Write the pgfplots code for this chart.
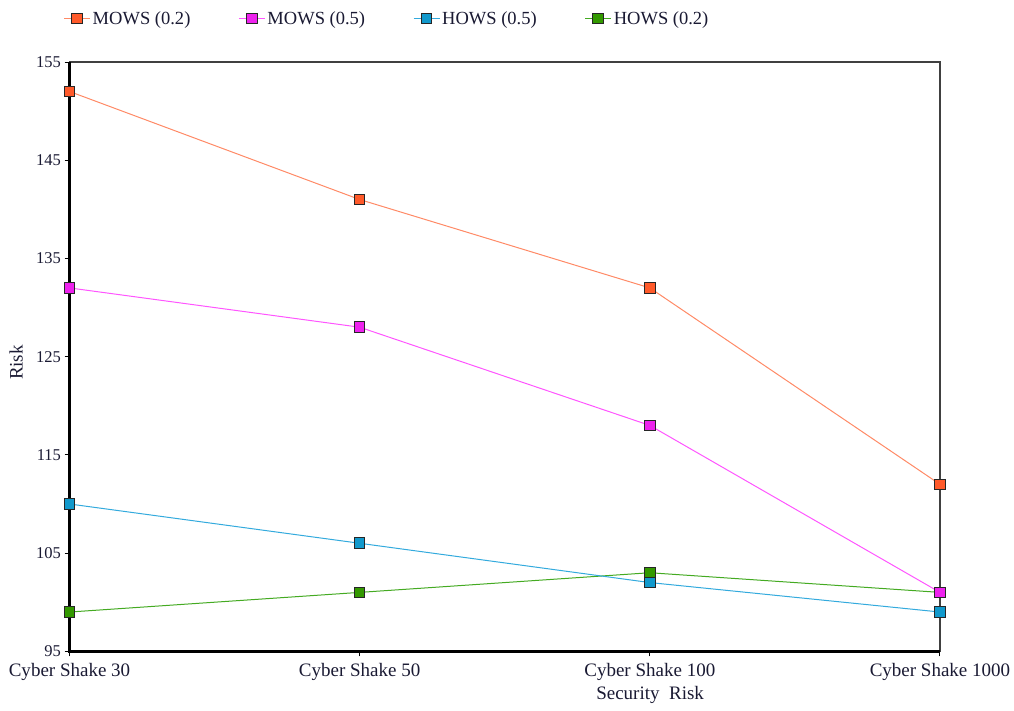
\documentclass[border=0pt]{standalone}
\usepackage{fontspec}
\setmainfont{Liberation Serif}
\usepackage{pgfplots}
\pgfplotsset{compat=1.18}
\definecolor{orline}{HTML}{FF8A66}
\definecolor{orfill}{HTML}{FF5A2A}
\definecolor{mgline}{HTML}{FF55FF}
\definecolor{mgfill}{HTML}{EE22EE}
\definecolor{blline}{HTML}{33AADD}
\definecolor{blfill}{HTML}{1199CC}
\definecolor{grline}{HTML}{44AA22}
\definecolor{grfill}{HTML}{339900}
\definecolor{txt}{HTML}{1A1A33}
\begin{document}
\begin{tikzpicture}
\begin{axis}[
    scale only axis,
    clip=false,
    width=870pt, height=589pt,
    xmin=0, xmax=3, ymin=95, ymax=155,
    xtick={0,1,2,3},
    xticklabels={Cyber Shake 30, Cyber Shake 50, Cyber Shake 100, Cyber Shake 1000},
    ytick={95,105,...,155},
    xtick pos=bottom, ytick pos=left,
    tick align=outside,
    major tick length=5pt,
    tick style={black, line width=1pt},
    axis line style={draw=black!75, line width=1.5pt},
    yticklabel style={font=\fontsize{16.5}{19}\selectfont, text=txt},
    xticklabel style={font=\fontsize{19}{22}\selectfont, text=txt, yshift=-3pt},
    /pgf/number format/assume math mode=true,
    xlabel={Security\ \ Risk},
    ylabel={Risk},
    label style={font=\fontsize{19}{22}\selectfont, text=txt},
    xlabel style={at={(axis description cs:0.667,0)}, anchor=north, yshift=-31pt},
    ylabel style={at={(axis description cs:-0.0615,0.49)}, anchor=center},
    legend style={at={(axis description cs:0,1)}, anchor=south west,
        xshift=-9pt, yshift=32pt, draw=none, fill=none,
        font=\fontsize{18.5}{22}\selectfont, text=txt,
        /tikz/every even column/.append style={column sep=46pt}},
    legend columns=4,
    legend image code/.code={
        \draw[#1, mark=none] (0pt,0pt) -- (26pt,0pt);
        \draw[#1, only marks] plot coordinates {(13pt,0pt)};
    },
    every axis plot/.append style={line width=1pt, mark=square*, mark size=5.3pt},
]
% legend entries first, in the reference's order
\addlegendimage{color=orline, line width=1pt, mark=square*, mark size=5.3pt, mark options={draw=black!85, line width=1pt, fill=orfill}}
\addlegendentry{MOWS (0.2)}
\addlegendimage{color=mgline, line width=1pt, mark=square*, mark size=5.3pt, mark options={draw=black!85, line width=1pt, fill=mgfill}}
\addlegendentry{MOWS (0.5)}
\addlegendimage{color=blline, line width=1pt, mark=square*, mark size=5.3pt, mark options={draw=black!85, line width=1pt, fill=blfill}}
\addlegendentry{HOWS (0.5)}
\addlegendimage{color=grline, line width=1pt, mark=square*, mark size=5.3pt, mark options={draw=black!85, line width=1pt, fill=grfill}}
\addlegendentry{HOWS (0.2)}
% plots drawn bottom to top so the markers overlap as in the reference
\addplot[forget plot, color=grline, mark options={draw=black!85, line width=1pt, fill=grfill}] coordinates {(0,99) (1,101) (2,103) (3,101)};
\addplot[forget plot, color=blline, mark options={draw=black!85, line width=1pt, fill=blfill}] coordinates {(0,110) (1,106) (2,102) (3,99)};
\addplot[forget plot, color=mgline, mark options={draw=black!85, line width=1pt, fill=mgfill}] coordinates {(0,132) (1,128) (2,118) (3,101)};
\addplot[forget plot, color=orline, mark options={draw=black!85, line width=1pt, fill=orfill}] coordinates {(0,152) (1,141) (2,132) (3,112)};
\draw[black, line width=3pt] (rel axis cs:0,1) -- (rel axis cs:0,0) -- (rel axis cs:1,0);
\path (rel axis cs:0,0) ++(-69.5pt,-59pt);
\path (rel axis cs:1,1) ++(74pt,62pt);
\end{axis}
\end{tikzpicture}
\end{document}
